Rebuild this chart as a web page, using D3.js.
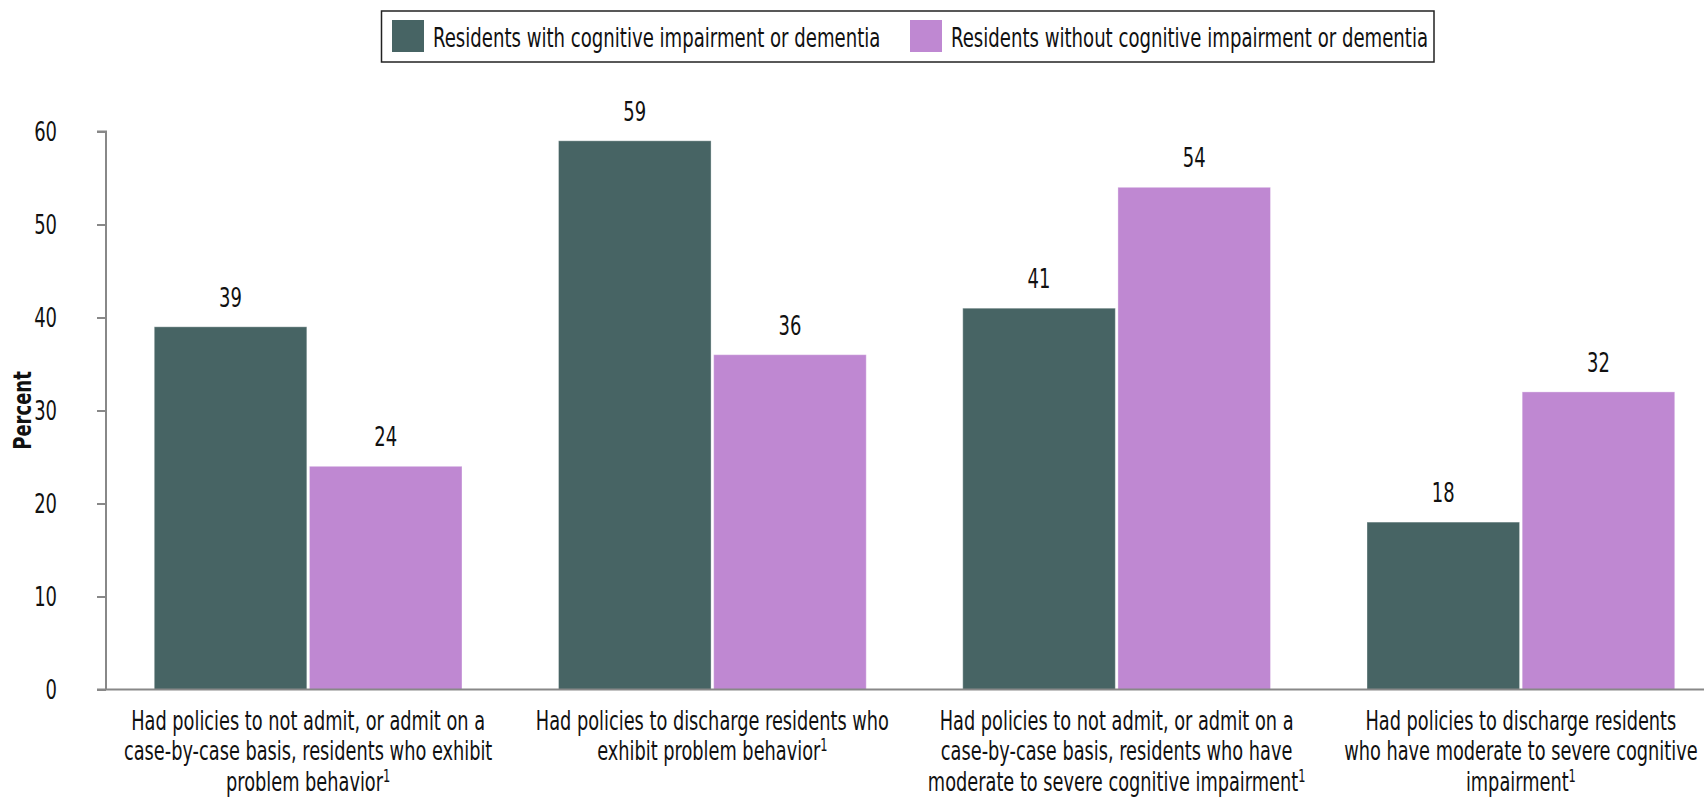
<!DOCTYPE html>
<html>
<head>
<meta charset="utf-8">
<script src="https://cdn.jsdelivr.net/npm/d3@7"></script>
<style>
  html, body { margin: 0; padding: 0; background: #fff; }
  svg { display: block; }
  text { font-family: "Liberation Sans Narrow", "DejaVu Sans Condensed", "Arial Narrow", sans-serif; fill: #111; }
</style>
</head>
<body>
<svg id="chart" width="1704" height="800"></svg>
<script>
// ---- Data ----
const categories = ["admitBehavior", "dischargeBehavior", "admitCognitive", "dischargeCognitive"];
const categoryLines = [
  ["Had policies to not admit, or admit on a", "case-by-case basis, residents who exhibit", "problem behavior"],
  ["Had policies to discharge residents who", "exhibit problem behavior"],
  ["Had policies to not admit, or admit on a", "case-by-case basis, residents who have", "moderate to severe cognitive impairment"],
  ["Had policies to discharge residents", "who have moderate to severe cognitive", "impairment"]
];
const footnoteMark = "1";
const seriesNames = ["Residents with cognitive impairment or dementia", "Residents without cognitive impairment or dementia"];
const withImpairment = [39, 59, 41, 18];
const withoutImpairment = [24, 36, 54, 32];
const yTicks = [0, 10, 20, 30, 40, 50, 60];
const yLabel = "Percent";
const colors = ["#476464", "#bf88d2"];

// ---- Layout ----
const svg = d3.select("#chart");
const x0 = d3.scaleBand().domain(categories).range([106, 1723]).paddingInner(0).paddingOuter(0);
const x1 = d3.scaleBand().domain([0, 1]).range([0, x0.bandwidth()]).paddingInner(0.0168).paddingOuter(0.311);
const y = d3.scaleLinear().domain([0, 60]).range([689.5, 131.5]);

const seriesValues = [withImpairment, withoutImpairment];
const numScale = 0.74;   // horizontal condensing for numbers
const textScale = 0.745; // horizontal condensing for labels

// Bars
const groups = svg.append("g").selectAll("g")
  .data(categories)
  .join("g")
  .attr("transform", d => `translate(${x0(d)},0)`);

groups.selectAll("rect")
  .data((d, i) => seriesValues.map((vals, s) => ({ s, v: vals[i] })))
  .join("rect")
  .attr("x", d => x1(d.s))
  .attr("width", x1.bandwidth())
  .attr("y", d => y(d.v))
  .attr("height", d => y(0) - y(d.v))
  .attr("fill", d => colors[d.s])
  .attr("stroke", "#ffffff")
  .attr("stroke-opacity", 0.35)
  .attr("stroke-width", 1);

groups.selectAll("g.val")
  .data((d, i) => seriesValues.map((vals, s) => ({ s, v: vals[i] })))
  .join("g")
  .attr("class", "val")
  .attr("transform", d => `translate(${x1(d.s) + x1.bandwidth() / 2},${y(d.v) - 20}) scale(${numScale},1)`)
  .append("text")
  .attr("text-anchor", "middle")
  .attr("font-size", 27)
  .text(d => d.v);

// Y axis
const yAxis = d3.axisLeft(y).tickValues(yTicks).tickSize(9).tickPadding(40).tickFormat(d3.format("d"));
const yg = svg.append("g").attr("transform", "translate(106,0)").call(yAxis);
yg.select(".domain").attr("stroke", "#888").attr("stroke-width", 2).attr("d", `M-9,${y(60)}H0V${y(0)}`);
yg.selectAll(".tick line").attr("stroke", "#888").attr("stroke-width", 2);
yg.selectAll(".tick text")
  .attr("font-size", 27).attr("fill", "#111")
  .attr("font-family", "Liberation Sans Narrow, DejaVu Sans Condensed, sans-serif")
  .attr("x", -49 / numScale)
  .attr("transform", `scale(${numScale},1)`);

// X axis baseline
const xAxis = d3.axisBottom(x0).tickSize(0).tickFormat("");
const xg = svg.append("g").attr("transform", `translate(0,${y(0)})`).call(xAxis);
xg.select(".domain").attr("stroke", "#888").attr("stroke-width", 2).attr("d", `M97,0H1704`);

// Category labels
categories.forEach((c, i) => {
  const cx = x0(c) + x0.bandwidth() / 2;
  const t = svg.append("g")
    .attr("transform", `translate(${cx},0) scale(${textScale},1)`)
    .append("text")
    .attr("text-anchor", "middle")
    .attr("font-size", 26.5);
  const lines = categoryLines[i];
  lines.forEach((ln, j) => {
    t.append("tspan").attr("x", 0).attr("y", 730 + j * 30.5).text(ln);
    if (j === lines.length - 1) {
      t.append("tspan").attr("font-size", 17).attr("dy", -9).text(footnoteMark);
    }
  });
});

// Y label
svg.append("text")
  .attr("transform", `translate(31,${(y(0) + y(60)) / 2}) rotate(-90) scale(0.8,1)`)
  .attr("text-anchor", "middle")
  .attr("font-size", 25)
  .attr("font-weight", "bold")
  .text(yLabel);

// Legend
const legend = svg.append("g");
legend.append("rect")
  .attr("x", 381.5).attr("y", 11).attr("width", 1052.5).attr("height", 51)
  .attr("fill", "#fff").attr("stroke", "#222").attr("stroke-width", 1.5);
const legendX = [392, 910];
seriesNames.forEach((name, s) => {
  legend.append("rect")
    .attr("x", legendX[s]).attr("y", 20).attr("width", 32).attr("height", 32)
    .attr("fill", colors[s]);
  legend.append("g")
    .attr("transform", `translate(${legendX[s] + 41},47) scale(0.76,1)`)
    .append("text")
    .attr("font-size", 26.5)
    .text(name);
});
</script>
</body>
</html>
